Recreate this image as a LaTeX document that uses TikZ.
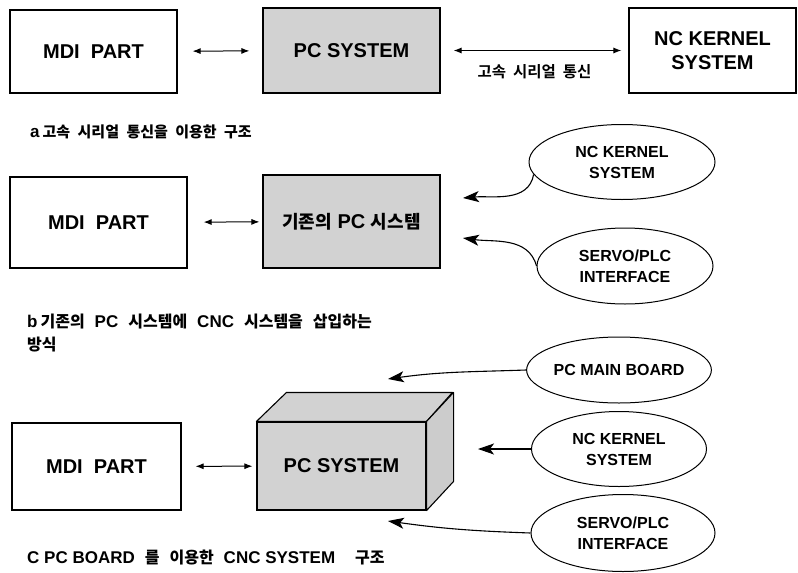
\documentclass[tikz,border=0pt]{standalone}
\usepackage{fontspec}
\setmainfont{Liberation Sans}
\newfontfamily\kr{Noto Sans CJK KR Bold}
\usetikzlibrary{shapes.geometric,arrows.meta}
\newcommand{\wsp}{\hspace{10pt}}
\newcommand{\hg}[1]{{\fontsize{16}{23}\selectfont\kr #1}}

\begin{document}
\begin{tikzpicture}[
  x=1pt, y=-1pt,
  box/.style={
    draw,
    line width=1.1pt,
    align=center,
    inner sep=0pt,
    font=\fontsize{20}{24}\selectfont\bfseries
  },
  pcbox/.style={box, fill=gray!35},
  oval/.style={
    draw,
    ellipse,
    line width=1pt,
    align=center,
    inner sep=0pt,
    minimum width=180pt,
    minimum height=75pt,
    font=\fontsize{16}{21}\selectfont\bfseries
  },
  caption/.style={anchor=west, inner sep=0pt, align=left, font=\fontsize{17}{23}\selectfont\bfseries},
  link/.style={{Latex[length=8pt,width=6pt]}-{Latex[length=8pt,width=6pt]}, line width=1pt},
  feed/.style={-{Stealth[length=16pt,width=11pt,inset=4pt]}, line width=1.1pt}
]
\useasboundingbox (0,0) rectangle (798,573);

\node[box, minimum width=167pt, minimum height=83pt] (mdiA) at (93.5,51.5) {MDI\ \ PART};
\node[pcbox, minimum width=177pt, minimum height=85pt] (pcA) at (351.5,50.5) {PC SYSTEM};
\node[box, minimum width=167pt, minimum height=85pt] (nckA) at (712.5,50.5) {NC KERNEL\\SYSTEM};
\node[caption] (capA) at (30,132) {a\hspace{3pt}{\fontsize{15}{23}\selectfont\kr 고속\hspace{4pt} 시리얼\hspace{4pt} 통신을\hspace{4pt} 이용한\hspace{4pt} 구조}};

\node[box, minimum width=177pt, minimum height=91pt] (mdiB) at (98.5,222.5) {MDI\ \ PART};
\node[pcbox, minimum width=177pt, minimum height=93pt] (pcB) at (351.5,221.5) {{\fontsize{18}{20}\selectfont\kr 기존의} PC {\fontsize{18}{20}\selectfont\kr 시스템}};
\node[oval, minimum width=186pt] (nckB) at (622,162) {NC KERNEL\\SYSTEM};
\node[oval, minimum width=176pt, minimum height=76pt] (servoB) at (625,266) {SERVO/PLC\\INTERFACE};
\coordinate (tipB1) at (463,198);
\coordinate (tipB2) at (463,238);
\node[caption] (capB) at (27,333) {b\hspace{3pt}\hg{기존의}\wsp PC\wsp\hg{시스템에}\wsp CNC\wsp\hg{시스템을}\wsp\hg{삽입하는}\\\hg{방식}};

\node[box, minimum width=169pt, minimum height=87pt] (mdiC) at (96.5,466.5) {MDI\ \ PART};
\node[pcbox, minimum width=169pt, minimum height=88pt] (pcC) at (341.5,466) {PC SYSTEM};
\filldraw[fill=gray!35, line width=1.1pt, line join=round] (pcC.north west) -- ++(30,-29) -- ++(166,0) -- (pcC.north east) -- cycle;
\filldraw[fill=gray!40, line width=1.1pt, line join=round] (pcC.north east) -- ++(27,-29) -- ++(0,89) -- (pcC.south east) -- cycle;
\node[oval, minimum width=176pt, minimum height=66pt] (mainC) at (619,370) {PC MAIN BOARD};
\node[oval, minimum width=175pt] (nckC) at (619,449) {NC KERNEL\\SYSTEM};
\node[oval, minimum width=184pt, minimum height=77pt] (servoC) at (623,533) {SERVO/PLC\\INTERFACE};
\coordinate (tipC1) at (388,379);
\coordinate (tipC2) at (388,521);
\node[caption] (capC) at (27,558) {C PC BOARD\wsp\hg{를}\wsp\hg{이용한}\wsp CNC SYSTEM\wsp\wsp\hg{구조}};

\draw[link, shorten <=15pt, shorten >=13pt] (mdiA) -- (pcA);
\draw[link, shorten <=13pt, shorten >=7pt] (pcA) -- node[below=10pt, font=\fontsize{15.5}{18}\selectfont\kr] (serial) {고속\ \ 시리얼\ \ 통신} (nckA);
\draw[link, shorten <=16pt, shorten >=3pt] (mdiB) -- (pcB);
\draw[link, shorten <=14pt, shorten >=4pt] (mdiC) -- (pcC);
\draw[feed] (nckB.188) to[out=260, in=5] (tipB1);
\draw[feed] (servoB.west) to[out=105, in=-8] (tipB2);
\draw[feed] (mainC.west) to[out=182, in=8] (tipC1);
\draw[feed] (nckC.west) -- ++(-53,0);
\draw[feed] (servoC.west) to[out=178, in=-8] (tipC2);
\end{tikzpicture}
\end{document}
